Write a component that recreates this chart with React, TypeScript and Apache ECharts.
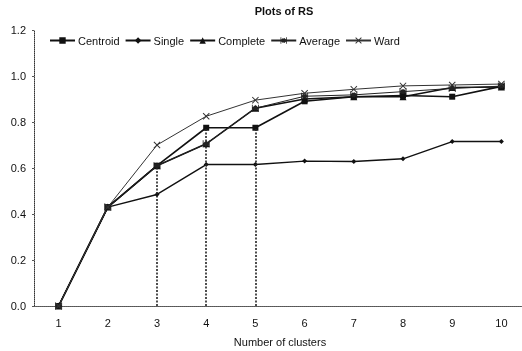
import React, { useEffect, useRef } from "react";
import * as echarts from "echarts";

const categories = ["1", "2", "3", "4", "5", "6", "7", "8", "9", "10"];
const centroid = [0, 0.43, 0.61, 0.775, 0.775, 0.89, 0.91, 0.915, 0.91, 0.955];
const single = [0, 0.43, 0.485, 0.615, 0.615, 0.63, 0.628, 0.64, 0.715, 0.715];
const complete = [0, 0.43, 0.61, 0.705, 0.86, 0.9, 0.91, 0.91, 0.95, 0.952];
const average = [0, 0.43, 0.61, 0.705, 0.86, 0.912, 0.918, 0.932, 0.946, 0.956];
const ward = [0, 0.43, 0.7, 0.825, 0.895, 0.925, 0.942, 0.957, 0.961, 0.965];
const highlighted = [2, 3, 4];

const FONT = "Liberation Sans, Arial, sans-serif";
const X_SYM = "path://M0,1L1,0L5,4L9,0L10,1L6,5L10,9L9,10L5,6L1,10L0,9L4,5Z";
const AVG_SYM =
  "path://M0,0L1.2,0L1.2,3.8L3.8,1.2L5,2.4L6.2,1.2L8.8,3.8L8.8,0L10,0L10,10L8.8,10L8.8,6.2L6.2,8.8L5,7.6L3.8,8.8L1.2,6.2L1.2,10L0,10Z";

export default function App() {
  const ref = useRef<HTMLDivElement>(null);
  useEffect(() => {
    if (!ref.current) return;
    const chart = echarts.init(ref.current, null, { renderer: "svg" });
    const mk = (name: string, data: number[], symbol: string, size: number, width: number, color: string) => ({
      name,
      type: "line",
      data,
      symbol,
      symbolSize: size,
      showSymbol: true,
      lineStyle: { color, width },
      itemStyle: { color, borderWidth: 0 },
      z: 3,
    });
    const centroidSeries: any = mk("Centroid", centroid, "rect", 6, 1.6, "#111");
    centroidSeries.markLine = {
      silent: true,
      symbol: "none",
      label: { show: false },
      lineStyle: { type: [2, 1.5], color: "#222", width: 1.6 },
      data: highlighted.map((i) => [
        { coord: [i, 0] },
        { coord: [i, centroid[i]] },
      ]),
    };
    chart.setOption({
      animation: false,
      textStyle: { fontFamily: FONT, color: "#111" },
      title: {
        text: "Plots of RS",
        left: 279,
        textAlign: "center",
        top: 0,
        textStyle: { fontSize: 11, fontWeight: "bold", color: "#111", fontFamily: FONT },
      },
      legend: {
        left: 49,
        top: 35,
        padding: 0,
        itemWidth: 25,
        itemHeight: 8,
        itemGap: 5,
        textStyle: { fontSize: 11, color: "#111", fontFamily: FONT, padding: [0, 0, 0, -2] },
        data: ["Centroid", "Single", "Complete", "Average", "Ward"],
      },
      grid: { left: 34, top: 30, right: -4, bottom: 45, outerBoundsMode: "none", containLabel: false },
      xAxis: [
        {
          type: "category",
          data: categories,
          boundaryGap: true,
          name: "Number of clusters",
          nameLocation: "middle",
          nameGap: 30,
          nameTextStyle: { fontSize: 11, color: "#111", fontFamily: FONT },
          axisLine: { lineStyle: { color: "#333", type: "dotted", width: 1 } },
          axisTick: { show: false },
          axisLabel: { fontSize: 11, color: "#111", margin: 11, fontFamily: FONT },
          splitLine: { show: false },
        },
        {
          type: "category",
          data: categories,
          position: "top",
          axisLine: { lineStyle: { color: "#555", type: "dotted", width: 1 } },
          axisTick: { show: false },
          axisLabel: { show: false },
          splitLine: { show: false },
        },
      ],
      yAxis: [
        {
          type: "value",
          min: 0,
          max: 1.2,
          interval: 0.2,
          axisLine: { show: true, lineStyle: { color: "#333", type: "dotted", width: 1 } },
          axisTick: { show: true, length: 2, lineStyle: { color: "#555" } },
          axisLabel: {
            fontSize: 11,
            color: "#111",
            margin: 8,
            fontFamily: FONT,
            formatter: (v: number) => v.toFixed(1),
          },
          splitLine: { show: false },
        },
        {
          type: "value",
          min: 0,
          max: 1.2,
          interval: 0.2,
          position: "right",
          axisLine: { show: true, lineStyle: { color: "#555", type: "dotted", width: 1 } },
          axisTick: { show: false },
          axisLabel: { show: false },
          splitLine: { show: false },
        },
      ],
      series: [
        centroidSeries,
        mk("Single", single, "diamond", 5, 1.4, "#111"),
        mk("Complete", complete, "triangle", 7, 1.6, "#111"),
        mk("Average", average, AVG_SYM, 7, 1, "#222"),
        mk("Ward", ward, X_SYM, 7, 1, "#333"),
      ],
    });
    return () => chart.dispose();
  }, []);
  return (
    <div
      ref={ref}
      style={{ position: "fixed", left: 0, top: 0, width: 522, height: 351 }}
    />
  );
}
